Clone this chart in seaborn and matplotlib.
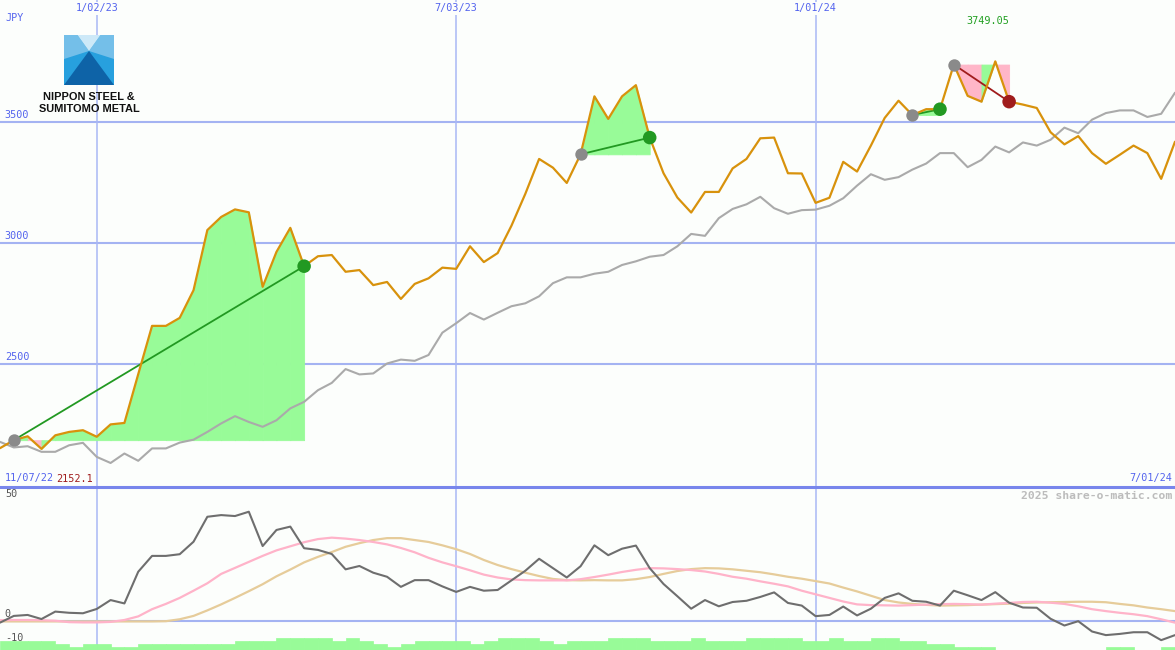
import numpy as np
import pandas as pd
import matplotlib
matplotlib.use("Agg")
import matplotlib.pyplot as plt
import matplotlib.transforms as mtransforms
from matplotlib.patches import Polygon
import seaborn as sns

# ---------------- data ----------------
weeks = pd.date_range("2022-11-14", periods=86, freq="7D")

price = [2155, 2188, 2204, 2152.1, 2208, 2222, 2229, 2202, 2253, 2259,
         2460, 2659, 2659, 2692, 2806, 3054, 3108, 3139, 3127, 2820,
         2964, 3063, 2905, 2946, 2951, 2882, 2889, 2827, 2840, 2770,
         2832, 2855, 2899, 2894, 2987, 2922, 2959, 3072, 3203, 3347,
         3311, 3248, 3366, 3605, 3512, 3605, 3651, 3435, 3288, 3188,
         3126, 3211, 3211, 3308, 3347, 3432, 3435, 3288, 3287, 3166,
         3187, 3335, 3295, 3402, 3516, 3587, 3528, 3552, 3552, 3736,
         3607, 3583, 3749.05, 3583, 3571, 3557, 3457, 3407, 3441, 3371,
         3327, 3364, 3402, 3371, 3265, 3418]

index_line = [2181, 2158, 2163, 2140, 2140, 2167, 2177, 2119, 2094, 2133,
              2103, 2154, 2154, 2178, 2190, 2222, 2257, 2287, 2263, 2243,
              2270, 2319, 2346, 2394, 2424, 2481, 2459, 2463, 2504, 2520,
              2515, 2539, 2631, 2670, 2712, 2685, 2713, 2740, 2752, 2781,
              2835, 2859, 2859, 2874, 2882, 2910, 2925, 2944, 2951, 2987,
              3038, 3030, 3103, 3141, 3160, 3191, 3144, 3121, 3136, 3138,
              3154, 3185, 3237, 3284, 3261, 3272, 3303, 3328, 3371, 3371,
              3313, 3343, 3398, 3374, 3415, 3402, 3426, 3476, 3453, 3509,
              3536, 3547, 3547, 3520, 3533, 3620]

momentum = [-0.8, 2.0, 2.4, 0.7, 3.8, 3.3, 3.1, 4.9, 8.6, 7.2,
            20.4, 27.0, 27.0, 27.7, 32.9, 43.3, 44.0, 43.6, 45.4, 31.1,
            37.8, 39.2, 30.2, 29.5, 27.8, 21.4, 22.8, 20.0, 18.3, 14.1,
            16.9, 16.9, 14.3, 12.0, 14.1, 12.5, 12.8, 16.8, 20.8, 25.8,
            21.9, 18.0, 22.7, 31.4, 27.3, 30.0, 31.3, 21.9, 15.3, 10.2,
            5.0, 8.6, 6.0, 7.8, 8.3, 9.9, 11.8, 7.4, 6.3, 1.9,
            2.4, 5.9, 2.2, 5.0, 9.5, 11.4, 8.3, 7.9, 6.3, 12.5,
            10.6, 8.6, 11.9, 7.5, 5.5, 5.4, 0.8, -2.0, -0.2, -4.5,
            -6.0, -5.5, -4.8, -4.8, -8.1, -6.0]

ma_fast = [0.2, 0.3, 0.3, 0.2, 0.0, -0.6, -0.7, -0.7, -0.5, 0.3,
           1.8, 4.8, 7.0, 9.5, 12.5, 15.6, 19.5, 22.0, 24.5, 27.0,
           29.3, 31.0, 32.7, 34.0, 34.6, 34.2, 33.6, 32.8, 31.8, 30.3,
           28.5, 26.2, 24.3, 22.7, 21.0, 19.2, 18.0, 17.2, 16.9, 16.8,
           16.8, 16.8, 17.3, 18.2, 19.2, 20.3, 21.2, 21.9, 21.8, 21.5,
           21.1, 20.5, 19.5, 18.3, 17.5, 16.4, 15.4, 14.3, 12.5, 11.0,
           9.5, 8.0, 6.8, 6.5, 6.4, 6.3, 6.5, 6.7, 6.9, 7.0,
           6.9, 6.7, 7.1, 7.4, 7.8, 7.9, 7.5, 7.0, 6.0, 4.8,
           4.0, 3.3, 2.7, 1.9, 0.6, -0.8]

ma_slow = [-0.3, -0.3, -0.3, -0.3, -0.3, -0.3, -0.3, -0.3, -0.3, -0.3,
           -0.3, -0.3, -0.2, 0.6, 2.0, 4.3, 6.8, 9.5, 12.3, 15.2,
           18.5, 21.3, 24.3, 26.6, 28.6, 30.8, 32.3, 33.6, 34.4, 34.4,
           33.6, 32.8, 31.4, 29.8, 27.8, 25.3, 23.2, 21.5, 20.0, 18.6,
           17.4, 16.9, 16.8, 16.9, 16.8, 16.8, 17.3, 18.2, 19.5, 20.7,
           21.5, 21.9, 21.8, 21.4, 20.8, 20.2, 19.3, 18.3, 17.5, 16.5,
           15.5, 13.8, 12.2, 10.4, 8.6, 7.6, 7.0, 6.6, 6.3, 6.4,
           6.5, 6.7, 6.9, 7.1, 7.4, 7.6, 7.7, 7.8, 7.9, 7.9,
           7.7, 7.0, 6.4, 5.5, 4.8, 4.0]

vol_level = [3, 3, 3, 3, 2, 1, 2, 2, 1, 1,
             2, 2, 2, 2, 2, 2, 2, 3, 3, 3,
             4, 4, 4, 4, 3, 4, 3, 2, 1, 2,
             3, 3, 3, 3, 2, 3, 4, 4, 4, 3,
             2, 3, 3, 3, 4, 4, 4, 3, 3, 3,
             4, 3, 3, 3, 4, 4, 4, 4, 3, 3,
             4, 3, 3, 4, 4, 3, 3, 2, 2, 1,
             1, 1, 0, 0, 0, 0, 0, 0, 0, 0,
             1, 1, 0, 0, 1, 1]

buy_idx = [1, 42, 66, 69]
sell_idx = [22, 47, 68, 73]

grid_prices = [2500, 3000, 3500]
date_ticks = pd.to_datetime(["2023-01-02", "2023-07-03", "2024-01-01"])
date_tick_labels = ["1/02/23", "7/03/23", "1/01/24"]
osc_ticks = [50, 0, -10]
start_label = "11/07/22"
end_label = "7/01/24"
currency = "JPY"
watermark = "2025 share-o-matic.com"

df = pd.DataFrame({"week": weeks, "price": price, "index": index_line,
                   "mom": momentum, "fast": ma_fast, "slow": ma_slow,
                   "vol": vol_level})

# ---------------- style ----------------
sns.set_theme(style="white")
plt.rcParams["font.family"] = ["DejaVu Sans Mono", "DejaVu Sans"]

BG = "#fcfefc"
BLUE_TXT = "#5363ee"
GRID = "#a4b3f2"
VGRID = "#a9b8f5"
SEP = "#7886ec"
ORANGE = "#d8920c"
GREY = "#aaaaaa"
FILL_G = "#98fb98"
FILL_R = "#ffb6c8"
TR_G = "#229922"
TR_R = "#a01c1c"
FS = 7.3

W, H = 1175, 650
fig = plt.figure(figsize=(W / 100, H / 100), dpi=100)
fig.patch.set_facecolor(BG)
ax = fig.add_axes([0, 163 / H, 1, 487 / H])
ax2 = fig.add_axes([0, 0, 1, 163 / H])

for a in (ax, ax2):
    a.set_facecolor(BG)
    a.grid(False)

# ---------------- main panel ----------------
for v in grid_prices:
    ax.axhline(v, color=GRID, lw=1.5, zorder=1)
for d in date_ticks:
    ax.axvline(d, color=VGRID, lw=1.1, zorder=1)
    ax2.axvline(d, color=VGRID, lw=1.1, zorder=1)

# trade fills
for b, s in zip(buy_idx, sell_idx):
    base = price[b]
    for j in range(b, s):
        col = FILL_G if price[j + 1] >= base else FILL_R
        ax.fill_between(weeks[j:j + 2], price[j:j + 2], base, color=col,
                        lw=0.6, edgecolor=col, zorder=2)

sns.lineplot(data=df, x="week", y="index", color=GREY, lw=1.5, ax=ax, zorder=3)

for b, s in zip(buy_idx, sell_idx):
    col = TR_G if price[s] >= price[b] else TR_R
    ax.plot([weeks[b], weeks[s]], [price[b], price[s]], color=col, lw=1.3, zorder=4)

sns.lineplot(data=df, x="week", y="price", color=ORANGE, lw=1.6, ax=ax, zorder=5)

ax.scatter(weeks[buy_idx], [price[i] for i in buy_idx], s=80, color="#8a8a8a",
           zorder=6, linewidths=0)
sell_cols = [TR_G if price[s] >= price[b] else TR_R for b, s in zip(buy_idx, sell_idx)]
ax.scatter(weeks[sell_idx], [price[i] for i in sell_idx], s=95, color=sell_cols,
           zorder=6, linewidths=0)

ax.set_xlim(weeks[0], weeks[-1])
ax.set_ylim(1995, 4002)

# y labels
for v in grid_prices:
    ax.annotate(str(v), xy=(0, v), xycoords=("axes fraction", "data"),
                xytext=(3.5, 1.5), textcoords="offset points", ha="left", va="bottom",
                color=BLUE_TXT, fontsize=FS)

trans_top = mtransforms.blended_transform_factory(ax.transData, ax.transAxes)
for d, lab in zip(date_ticks, date_tick_labels):
    ax.text(d, 1 - 8.5 / 487, lab, transform=trans_top, ha="center", va="center",
            color=BLUE_TXT, fontsize=FS, zorder=7,
            bbox=dict(boxstyle="square,pad=0.15", fc=BG, ec="none"))

fig.text(5 / W, 1 - 18 / H, currency, ha="left", va="center", color=BLUE_TXT, fontsize=FS)

imax = int(np.argmax(price))
ax.annotate(f"{price[imax]:.2f}", xy=(weeks[imax], 1 - 21 / 487),
            xycoords=("data", "axes fraction"), xytext=(-5.5, 0),
            textcoords="offset points", ha="center", va="center",
            color="#22a022", fontsize=FS)
fig.text(5 / W, 1 - 478.5 / H, start_label, ha="left", va="center", color=BLUE_TXT, fontsize=FS)
fig.text(56 / W, 1 - 478.5 / H, f"{min(price):.1f}", ha="left", va="center",
         color="#a01c1c", fontsize=FS)
fig.text(1172 / W, 1 - 478.5 / H, end_label, ha="right", va="center", color=BLUE_TXT, fontsize=FS)

# ---------------- lower panel ----------------
ax2.axhline(0, color=GRID, lw=1.5, zorder=1)
ax2.bar(weeks, np.array(vol_level) * 1.3, width=7, bottom=-12.2, align="edge",
        color=FILL_G, edgecolor=FILL_G, lw=0.5, zorder=2)
sns.lineplot(data=df, x="week", y="slow", color="#e6cc9a", lw=1.6, ax=ax2, zorder=3)
sns.lineplot(data=df, x="week", y="fast", color="#ffb3c9", lw=1.6, ax=ax2, zorder=4)
sns.lineplot(data=df, x="week", y="mom", color="#6e6e6e", lw=1.5, ax=ax2, zorder=5)
ax2.set_xlim(weeks[0], weeks[-1])
ax2.set_ylim(-12.2, 55.7)

for v in osc_ticks:
    ax2.annotate(str(v), xy=(0, v), xycoords=("axes fraction", "data"),
                 xytext=(3.5, 1.0), textcoords="offset points", ha="left", va="bottom",
                 color="#555555", fontsize=FS, zorder=6)

fig.text(1172 / W, 1 - 496 / H, watermark, ha="right", va="center", color="#bcbcbc",
         fontsize=8.2, fontweight="bold")

for a in (ax, ax2):
    a.set_xticks([])
    a.set_yticks([])
    a.set_xlabel("")
    a.set_ylabel("")
    for s in a.spines.values():
        s.set_visible(False)
ax2.spines["top"].set_visible(True)
ax2.spines["top"].set_color(SEP)
ax2.spines["top"].set_linewidth(2.2)
ax2.spines["top"].set_zorder(10)

# ---------------- logo ----------------
lax = fig.add_axes([64 / W, 1 - 85 / H, 50 / W, 50 / H])
lax.set_xlim(0, 1)
lax.set_ylim(0, 1)
lax.axis("off")
lax.add_patch(Polygon([(0, 0), (1, 0), (1, 1), (0, 1)], closed=True, fc="#27a0de", ec="none"))
lax.add_patch(Polygon([(0, 1), (0.27, 1), (0.5, 0.68), (0, 0.52)], closed=True, fc="#74bfe9", ec="none"))
lax.add_patch(Polygon([(1, 1), (0.73, 1), (0.5, 0.68), (1, 0.52)], closed=True, fc="#74bfe9", ec="none"))
lax.add_patch(Polygon([(0.27, 1), (0.73, 1), (0.5, 0.68)], closed=True, fc="#cde9f8", ec="none"))
lax.add_patch(Polygon([(0.5, 0.68), (0, 0), (1, 0)], closed=True, fc="#0e63a7", ec="none"))
fig.text(89 / W, 1 - 97 / H, "NIPPON STEEL &", ha="center", va="center", fontsize=7.9,
         fontweight="bold", family=["Liberation Sans", "DejaVu Sans"], color="#111111")
fig.text(89 / W, 1 - 108.5 / H, "SUMITOMO METAL", ha="center", va="center", fontsize=7.9,
         fontweight="bold", family=["Liberation Sans", "DejaVu Sans"], color="#111111")

fig.savefig("out.png", dpi=100, facecolor=BG)
